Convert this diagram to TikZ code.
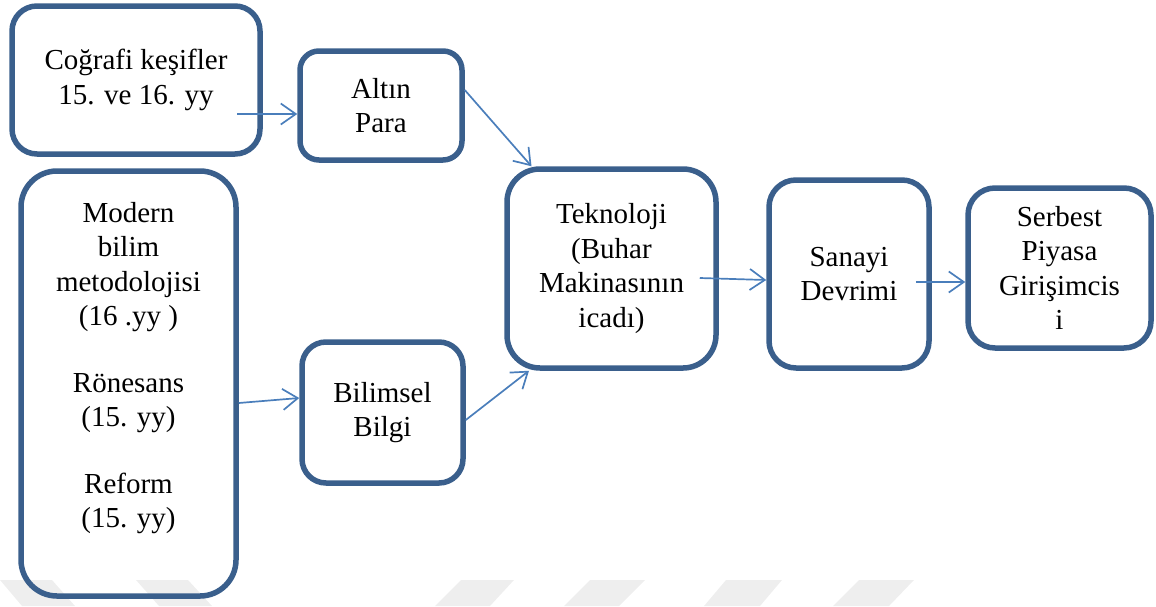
\documentclass[tikz,border=0pt]{standalone}
\usepackage{fontspec}
\setmainfont{Liberation Serif}
\usetikzlibrary{arrows.meta}
\definecolor{boxc}{HTML}{3A5F8C}
\definecolor{arrc}{HTML}{4A7EBB}
\definecolor{wm}{HTML}{EEEEEE}
\begin{document}
\begin{tikzpicture}[x=1pt,y=-1pt,
  box/.style={draw=boxc, line width=5.5pt, rounded corners=#1, align=center,
    inner sep=0pt, font=\fontsize{29}{34.5}\selectfont},
  box/.default=25pt,
  txt/.style={align=center, inner sep=0pt, font=\fontsize{29}{34.5}\selectfont},
  arr/.style={draw=arrc, line width=1.7pt,
    -{Straight Barb[length=15pt,width=21pt,line width=1.7pt]}},
  wmark/.style={fill=wm}
]
\useasboundingbox (0,0) rectangle (1156,606);
% watermark
\fill[wmark] (0,580) -- (52,580) -- (75,606) -- (22,606) -- cycle;
\fill[wmark] (136,580) -- (188,580) -- (212,606) -- (159,606) -- cycle;
\fill[wmark] (461,580) -- (514,580) -- (490,606) -- (435,606) -- cycle;
\fill[wmark] (590,580) -- (645,580) -- (619,606) -- (564,606) -- cycle;
\fill[wmark] (726,580) -- (782,580) -- (760,606) -- (704,606) -- cycle;
\fill[wmark] (859,580) -- (914,580) -- (889,606) -- (833,606) -- cycle;

% boxes
\node[box=25pt, minimum width=248pt, minimum height=148pt] (A) at (136,80)
  {Coğrafi keşifler\\15. ve 16. yy};
\node[box=19pt, minimum width=162pt, minimum height=109pt] (B) at (381,105.5)
  {Altın\\Para};
\node[box=36pt, minimum width=215pt, minimum height=425pt] (C) at (128.5,383.5) {};
\node[txt] (Ct) at (128.5,368)
  {Modern\\bilim\\metodolojisi\\(16 .yy )\\[32pt]Rönesans\\(15. yy)\\[32pt]Reform\\(15. yy)};
\node[box=24pt, minimum width=161pt, minimum height=141pt] (D) at (382.5,412.5)
  {Bilimsel\\Bilgi};
\node[box=33pt, minimum width=209pt, minimum height=199pt] (E) at (611.5,268.5)
  {Teknoloji\\(Buhar\\Makinasının\\icadı)};
\node[box=27pt, minimum width=160pt, minimum height=188pt] (F) at (849,274)
  {Sanayi\\Devrimi};
\node[box=27pt, minimum width=183pt, minimum height=160pt] (G) at (1059.5,268)
  {Serbest\\Piyasa\\Girişimcis\\i};

% connectors
\coordinate (s1) at (237,114);
\draw[arr] (s1) -- (s1 -| B.west);
\draw[arr] ([yshift=15.5pt]B.east) -- ([xshift=-80pt]E.north);
\draw[arr] ([yshift=-19.5pt]C.east) -- ([yshift=14.5pt]D.west);
\draw[arr] ([yshift=-7.5pt]D.east) -- ([xshift=-82.5pt]E.south);
\draw[arr] ([xshift=-19pt,yshift=-9.5pt]E.east) -- ([yshift=-6pt]F.west);
\draw[arr] ([xshift=-16pt,yshift=-8pt]F.east) -- ([yshift=-14pt]G.west);
\end{tikzpicture}
\end{document}
